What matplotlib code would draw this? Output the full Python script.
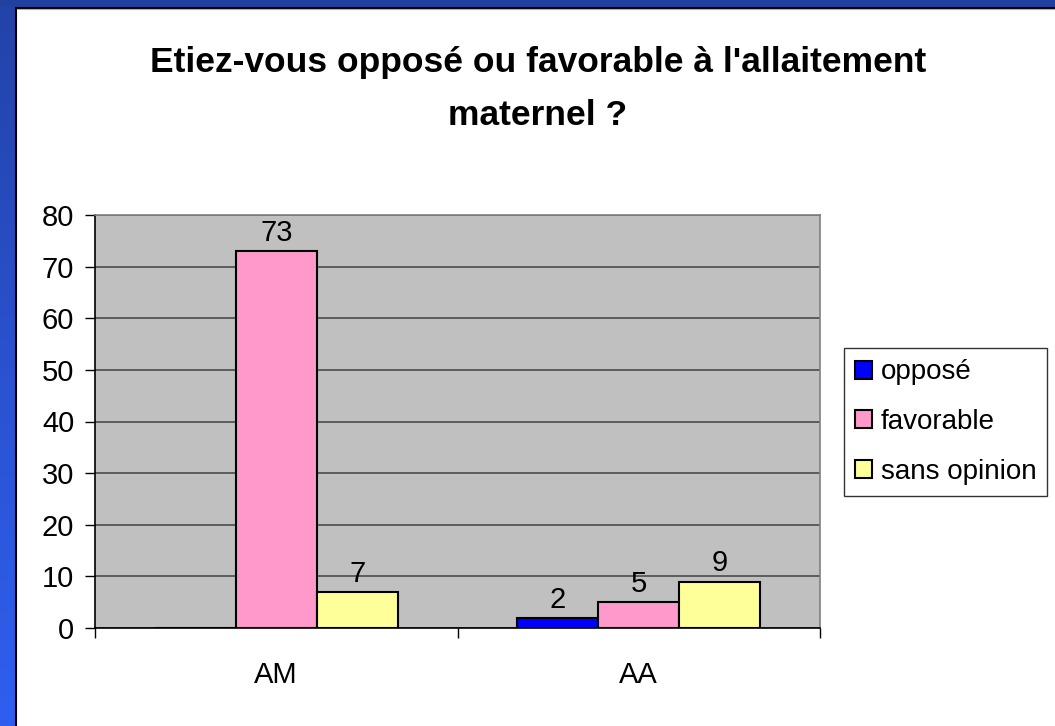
import matplotlib
matplotlib.use("Agg")
import matplotlib.pyplot as plt
import numpy as np
from matplotlib.patches import Rectangle
from matplotlib.lines import Line2D
from matplotlib.colors import LinearSegmentedColormap

# ---- data ----
categories = ["AM", "AA"]
series_names = ["opposé", "favorable", "sans opinion"]
opposed = [0, 2]
favorable = [73, 5]
no_opinion = [7, 9]
title_line1 = "Etiez-vous opposé ou favorable à l'allaitement"
title_line2 = "maternel ?"
y_ticks = [0, 10, 20, 30, 40, 50, 60, 70, 80]

colors = ["#0000FF", "#FF99CC", "#FFFF99"]

plt.rcParams['font.family'] = ['Liberation Sans', 'DejaVu Sans']

W, H = 1055, 726
fig = plt.figure(figsize=(W / 100, H / 100), dpi=100)
fig.patch.set_facecolor("white")

def fx(px):
    return px / W

def fy(py):
    return 1 - py / H

# ---- slide frame (blue border) ----
top_ax = fig.add_axes([0, fy(7), 1, 7 / H])
top_ax.axis("off")
top_ax.add_patch(Rectangle((0, 0), 1, 1, color="#2141A0", transform=top_ax.transAxes))

left_ax = fig.add_axes([0, 0, fx(15), fy(7)])
left_ax.axis("off")
grad = np.linspace(0, 1, 256).reshape(-1, 1)
cmap = LinearSegmentedColormap.from_list("b", ["#2F5FF0", "#2A52D0", "#2343A8"])
left_ax.imshow(grad, aspect="auto", cmap=cmap, origin="lower", extent=[0, 1, 0, 1])
left_ax.set_xlim(0, 1)
left_ax.set_ylim(0, 1)

fig.add_artist(Line2D([fx(15.5), fx(15.5)], [0, fy(7.5)], color="black", lw=1.5, transform=fig.transFigure))
fig.add_artist(Line2D([fx(15.5), 1], [fy(7.5), fy(7.5)], color="black", lw=1.5, transform=fig.transFigure))
fig.add_artist(Line2D([fx(16.5), 1], [fy(8.6), fy(8.6)], color="#B0B0B0", lw=0.8, transform=fig.transFigure))

# ---- title ----
fig.text(fx(538), fy(72), title_line1, ha="center", va="baseline",
         fontsize=25.5, fontweight="bold", color="black")
fig.text(fx(538), fy(125), title_line2, ha="center", va="baseline",
         fontsize=25.5, fontweight="bold", color="black")

# ---- plot ----
ax = fig.add_axes([fx(95), fy(628), fx(820) - fx(95), fy(215) - fy(628)])
ax.set_facecolor("#C0C0C0")

FS = 21
x = np.arange(len(categories))
w = 0.2235
series = [opposed, favorable, no_opinion]
for i, (vals, name, c) in enumerate(zip(series, series_names, colors)):
    bars = ax.bar(x + (i - 1) * w, vals, width=w, color=c, edgecolor="black",
                  linewidth=1.5, label=name, zorder=3)
    labels = [str(v) if v != 0 else "" for v in vals]
    ax.bar_label(bars, labels=labels, padding=3, fontsize=FS, color="black")

ax.set_xlim(-0.5, 1.5)
ax.set_ylim(0, 80)
ax.set_yticks(y_ticks)
ax.set_yticklabels([str(t) for t in y_ticks])
ax.yaxis.grid(True, color="#555555", linewidth=1.3, zorder=1)
ax.set_axisbelow(True)

ax.set_xticks(x)
ax.set_xticklabels(categories)
ax.set_xticks([-0.5, 0.5, 1.5], minor=True)
ax.tick_params(axis="x", which="major", length=0, pad=24, labelsize=FS)
ax.tick_params(axis="x", which="minor", length=7, width=1, direction="out", color="black")
ax.tick_params(axis="y", length=7, width=1, direction="out", pad=8, labelsize=FS)

for s in ["left", "bottom"]:
    ax.spines[s].set_color("black")
    ax.spines[s].set_linewidth(1.2)
for s in ["top", "right"]:
    ax.spines[s].set_color("#808080")
    ax.spines[s].set_linewidth(1.2)
ax.spines["bottom"].set_zorder(4)

leg = fig.legend(loc="center left", bbox_to_anchor=(fx(844), fy(422)),
                 bbox_transform=fig.transFigure, fontsize=20,
                 frameon=True, fancybox=False, edgecolor="black",
                 borderaxespad=0, borderpad=0.4, handlelength=0.62, handleheight=0.62,
                 handletextpad=0.3, labelspacing=0.85)
leg.get_frame().set_linewidth(1.0)

fig.savefig("out.png", dpi=100, facecolor="white")
